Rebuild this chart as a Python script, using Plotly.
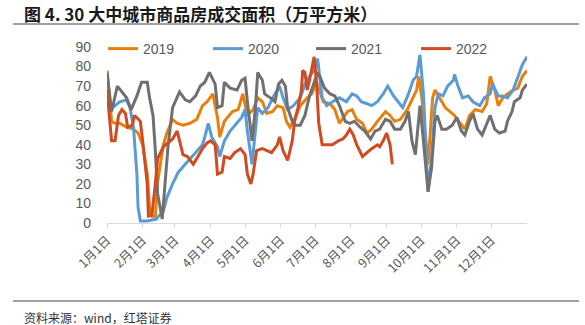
import plotly.graph_objects as go

# ---- data (day of year, 万平方米) ----
days_2019 = [0, 4, 7, 11, 17, 23, 27, 31, 35, 37, 39, 42, 44, 49, 52, 57, 61, 66, 72, 78, 83, 87, 92, 96, 98,
             102, 109, 114, 118, 122, 127, 131, 135, 139, 144, 148, 153, 156, 159, 163, 168, 174, 178, 182, 188,
             194, 198, 202, 209, 213, 217, 222, 226, 230, 235, 242, 246, 250, 255, 261, 265, 269, 271, 274, 279,
             283, 285, 289, 294, 298, 302, 307, 311, 315, 320, 326, 330, 333, 337, 340, 344, 348, 353, 357, 361, 365]
vals_2019 = [78, 52, 51, 51, 49, 48, 46, 40, 25, 8, 3.5, 3.5, 21, 40, 46, 53, 51, 50, 51, 53, 60, 62, 66, 54, 44,
             52, 57, 58, 66, 55, 58, 64, 62, 56, 57, 60, 59, 52, 49, 53, 60, 64, 66, 72, 62,
             61, 58, 51, 57, 58, 53, 51, 46, 48, 52, 57, 55, 52, 53, 58, 63, 68, 75, 62, 30,
             64, 68, 64, 59, 57, 55, 51, 48, 55, 58, 57, 61, 75, 68, 60, 64, 66, 68, 69, 75, 78]

days_2020 = [0, 5, 11, 17, 20, 23, 26, 27, 29, 35, 43, 44, 49, 52, 57, 62, 68, 74, 79, 83, 85, 88, 91, 96, 98,
             102, 107, 113, 117, 120, 122, 126, 129, 131, 135, 140, 144, 148, 150, 153, 157, 162, 168, 172, 176,
             180, 183, 187, 191, 196, 202, 208, 213, 217, 221, 226, 230, 235, 240, 244, 249, 253, 257, 262, 266,
             269, 272, 275, 278, 279, 282, 285, 288, 292, 296, 301, 302, 305, 309, 314, 318, 324, 328, 333, 335,
             340, 344, 348, 353, 357, 361, 365]
vals_2020 = [60, 59, 62, 63, 59, 49, 25, 8, 1, 1, 2, 3, 6, 13, 20, 26, 30, 34, 37, 40, 44, 51, 44, 39, 34,
             42, 47, 51, 54, 58, 47, 30, 48, 59, 56, 59, 64, 68, 70, 64, 58, 60, 64, 71, 75,
             78, 84, 64, 60, 62, 64, 62, 66, 65, 62, 61, 60, 62, 66, 70, 65, 62, 59, 66, 73,
             75, 86, 66, 33, 16, 33, 59, 66, 65, 70, 73, 76, 70, 64, 65, 62, 60, 64, 66, 71,
             65, 65, 64, 68, 75, 81, 85]

days_2021 = [0, 4, 9, 13, 17, 21, 26, 30, 35, 37, 40, 42, 44, 48, 50, 53, 57, 61, 63, 68, 72, 77, 81, 85, 89,
             94, 96, 100, 102, 107, 113, 117, 120, 122, 126, 129, 131, 135, 137, 142, 146, 149, 152, 155, 157,
             161, 163, 168, 172, 176, 180, 183, 185, 189, 194, 198, 202, 207, 211, 215, 220, 224, 229, 233, 237,
             242, 246, 250, 255, 259, 262, 265, 268, 270, 272, 275, 278, 279, 282, 285, 287, 291, 295, 300, 304,
             308, 311, 315, 318, 322, 326, 330, 333, 337, 341, 346, 348, 352, 354, 359, 361, 365]
vals_2021 = [77, 57, 70, 67, 64, 58, 65, 72, 72, 64, 55, 37, 15, 2, 16, 39, 59, 64, 67, 63, 62, 65, 70, 72, 77,
             71, 59, 60, 72, 69, 68, 73, 74, 62, 42, 59, 77, 73, 66, 64, 62, 71, 73, 70, 59,
             52, 50, 50, 55, 65, 72, 77, 75, 69, 66, 65, 60, 52, 51, 52, 49, 47, 43, 47, 48,
             53, 52, 48, 48, 52, 57, 42, 35, 49, 60, 42, 22, 16, 28, 52, 55, 48, 48, 50, 54,
             47, 45, 52, 56, 48, 45, 51, 55, 48, 46, 47, 52, 57, 62, 64, 68, 71]

days_2022 = [0, 4, 7, 10, 13, 16, 18, 22, 24, 29, 31, 35, 36, 39, 42, 44, 49, 53, 57, 61, 63, 66, 70, 75, 79,
             83, 87, 90, 94, 96, 100, 102, 107, 111, 116, 120, 122, 125, 127, 130, 135, 139, 143, 148, 150,
             153, 157, 161, 163, 166, 169, 170, 172, 174, 176, 180, 182, 184, 187, 191, 196, 201, 205, 208, 211,
             214, 217, 222, 226, 230, 235, 237, 240, 243, 246, 248]
vals_2022 = [68, 42, 42, 55, 58, 56, 49, 50, 55, 52, 42, 20, 3.5, 4, 20, 33, 39, 41, 43, 47, 42, 35, 34, 30, 34,
             38, 41, 42, 40, 25, 26, 34, 33, 36, 38, 35, 25, 20, 25, 37, 38, 37, 36, 40, 44,
             37, 32, 42, 52, 59, 68, 78, 77, 68, 73, 85, 73, 51, 40, 40, 40, 42, 43, 45, 48,
             45, 40, 34, 36, 38, 40, 39, 42, 46, 40, 30]

month_days = [0, 31, 59, 90, 120, 151, 181, 212, 243, 273, 304, 334]
month_labels = ["1月1日", "2月1日", "3月1日", "4月1日", "5月1日", "6月1日",
                "7月1日", "8月1日", "9月1日", "10月1日", "11月1日", "12月1日"]
y_ticks = [0, 10, 20, 30, 40, 50, 60, 70, 80, 90]

series = [
    ("2019", days_2019, vals_2019, "#E8800F"),
    ("2020", days_2020, vals_2020, "#5B9BD5"),
    ("2021", days_2021, vals_2021, "#707070"),
    ("2022", days_2022, vals_2022, "#D04A22"),
]

W, H = 585, 325
L, R, T, B = 107, 527, 47, 223
pw, ph = R - L, B - T

def px(x):
    return (x - L) / pw

def py(y):
    return (B - y) / ph

legend_names = ["legend", "legend2", "legend3", "legend4"]
legend_left = [103, 208, 311, 416]

fig = go.Figure()
for (name, d, v, c), lg in zip(series, legend_names):
    fig.add_trace(go.Scatter(x=d, y=v, name=name, mode="lines", legend=lg,
                             line=dict(color=c, width=3), hoverinfo="skip"))

legend_layout = {}
for lg, lx in zip(legend_names, legend_left):
    legend_layout[lg] = dict(orientation="h", x=px(lx), y=py(49), xanchor="left", yanchor="middle",
                             font=dict(size=14, color="#595959", family="Liberation Sans"),
                             bgcolor="rgba(0,0,0,0)", itemwidth=30)

fig.update_layout(
    width=W, height=H,
    margin=dict(l=L, r=W - R, t=T, b=H - B, pad=0),
    paper_bgcolor="white", plot_bgcolor="white",
    font=dict(family="Liberation Sans, Arial, Noto Sans CJK SC", color="#595959"),
    showlegend=True,
    xaxis=dict(range=[0, 365], tickmode="array", tickvals=month_days, ticktext=month_labels,
               tickangle=-45, showgrid=False, zeroline=False,
               showline=True, linecolor="#D9D9D9", linewidth=1,
               ticks="outside", ticklen=4, tickcolor="#D9D9D9",
               tickfont=dict(size=12.5, color="#595959", family="Noto Sans CJK SC")),
    yaxis=dict(range=[0, 90], tickmode="array", tickvals=y_ticks, showgrid=False, zeroline=False,
               showline=False, ticks="", ticklabelstandoff=15,
               tickfont=dict(size=14, color="#595959", family="Liberation Sans")),
    annotations=[
        dict(text="<b>图 4. 30 大中城市商品房成交面积（万平方米）</b>", xref="paper", yref="paper",
             x=px(22), y=py(13), xanchor="left", yanchor="middle", showarrow=False,
             font=dict(size=17, color="#1a1a1a", family="Noto Sans CJK SC")),
        dict(text="资料来源：wind，红塔证券", xref="paper", yref="paper",
             x=px(22), y=py(317), xanchor="left", yanchor="middle", showarrow=False,
             font=dict(size=12, color="#333333", family="Noto Sans CJK SC")),
    ],
    shapes=[
        dict(type="line", xref="paper", yref="paper", x0=px(13), x1=px(579), y0=py(24), y1=py(24),
             line=dict(color="#444444", width=1)),
        dict(type="line", xref="paper", yref="paper", x0=px(13), x1=px(579), y0=py(301), y1=py(301),
             line=dict(color="#444444", width=1)),
    ],
    **legend_layout,
)

fig.write_html("out.html")
